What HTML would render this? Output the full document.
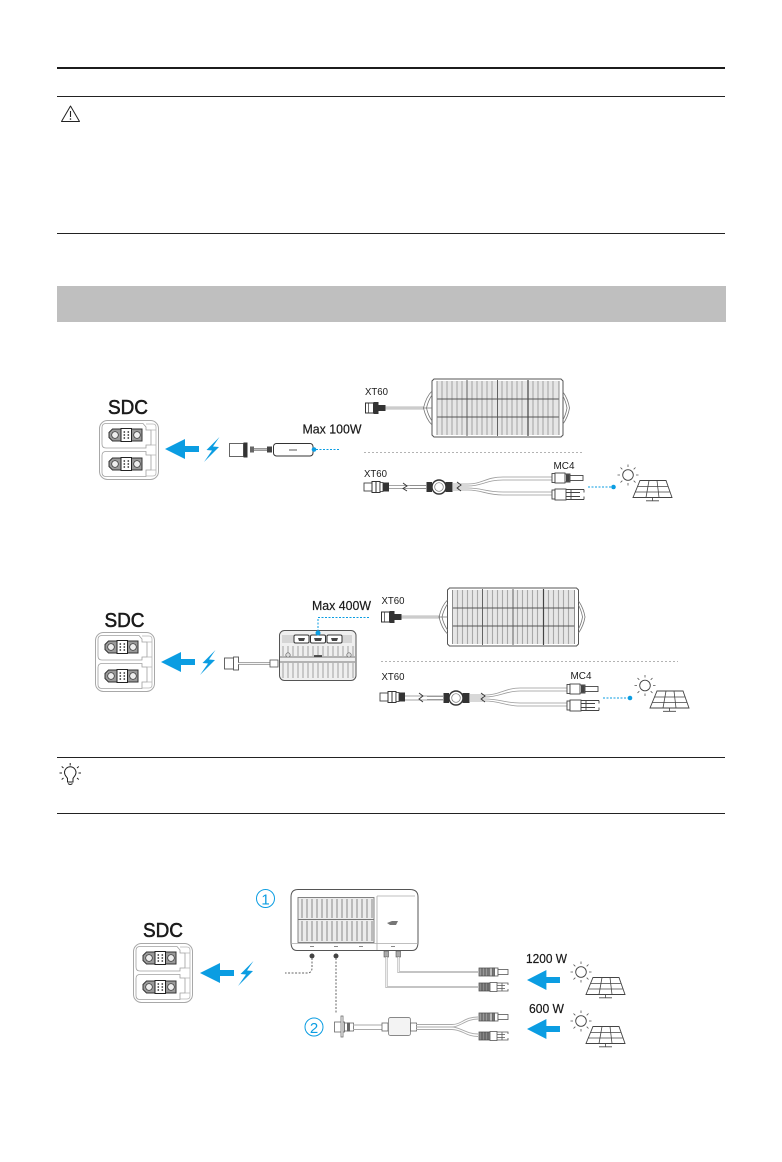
<!DOCTYPE html>
<html lang="en">
<head>
<meta charset="utf-8">
<title>SDC power connections</title>
<style>
html,body{margin:0;padding:0;background:#fff;}
svg{display:block;}
text{font-family:"Liberation Sans",sans-serif;fill:#1a1a1a;}
</style>
</head>
<body>
<svg width="782" height="1162" viewBox="0 0 782 1162" xmlns="http://www.w3.org/2000/svg">
<defs>
  <g id="socket">
    <path d="M10.500 3 L40 3 L40 15 L10.500 15 L7 11.500 L7 6.500 Z" fill="#9a9a9a" stroke="#333" stroke-width="1"/>
    <circle cx="13" cy="9" r="3.300" fill="#eee" stroke="#333" stroke-width=".7"/>
    <circle cx="35" cy="9" r="3.300" fill="#eee" stroke="#333" stroke-width=".7"/>
    <rect x="19" y="2.500" width="10.500" height="13" fill="#fff" stroke="#222" stroke-width="1"/>
    <g fill="#333"><circle cx="22.300" cy="6" r=".9"/><circle cx="26.300" cy="6" r=".9"/><circle cx="22.300" cy="9" r=".9"/><circle cx="26.300" cy="9" r=".9"/><circle cx="22.300" cy="12" r=".9"/><circle cx="26.300" cy="12" r=".9"/></g>
  </g>
  <g id="sdc" fill="none">
    <rect x=".5" y=".5" width="59" height="59" rx="8" fill="#fff" stroke="#a8a8a8" stroke-width="1"/>
    <path d="M7 3.500 H44 L47 7 V10 H52 V25 H47 V28 H7 Q3 28 3 24 V7.500 Q3 3.500 7 3.500 Z" stroke="#a0a0a0" stroke-width=".8"/>
    <path d="M7 31.500 H47 V35 H52 V50 H47 V56.500 H7 Q3 56.500 3 52.500 V35.500 Q3 31.500 7 31.500 Z" stroke="#a0a0a0" stroke-width=".8"/>
    <path d="M47 4 H54 Q57 4 57 7 V53 Q57 56 54 56 H47 M52 10 H57 M52 25 H57 M52 35 H57 M52 50 H57" stroke="#b5b5b5" stroke-width=".8"/>
    <use href="#socket" transform="translate(3 6)"/>
    <use href="#socket" transform="translate(3 35)"/>
  </g>
  <g id="arrow">
    <path d="M0 0 L20 -10 L20 -3 L34 -3 L34 3 L20 3 L20 10 Z" fill="#0b9de2"/>
  </g>
  <path id="bolt" d="M15.500 0 L2.500 13 L8 13.500 L0 25 L15 10 L9 9.500 Z" fill="#0b9de2"/>
  <g id="sun">
    <circle cx="0" cy="0" r="5.300" fill="#fff" stroke="#444" stroke-width=".9"/>
    <path d="M0 -8 V-10.500 M0 8 V10.500 M-8 0 H-10.500 M8 0 H10.500 M-5.700 -5.700 L-7.500 -7.500 M5.700 -5.700 L7.500 -7.500 M-5.700 5.700 L-7.500 7.500 M5.700 5.700 L7.500 7.500" stroke="#555" stroke-width=".8" fill="none"/>
  </g>
  <g id="solar">
    <use href="#sun"/>
    <path d="M12 5.500 H38 L44 22.500 H5 Z" fill="#fff" stroke="#444" stroke-width=".9"/>
    <path d="M9.500 11.500 H39.800 M7.300 17 H41.800 M21 5.500 L18 22.500 M29 5.500 L31 22.500 M24.500 22.500 V25.500 M18 25.800 H31" fill="none" stroke="#444" stroke-width=".8"/>
  </g>
  <g id="panelgrid">
    <path d="M2 0 H129 L131 2 V56 L129 58 H2 L0 56 V2 Z" fill="#fff" stroke="#555" stroke-width="1"/>
    <path d="M0 12 Q-6 18 -8.500 29 Q-6 40 0 46 M0 16 Q-4 22 -5.500 29 Q-4 36 0 42 M-8.500 29 H0" fill="none" stroke="#777" stroke-width=".8"/>
    <path d="M131 13 Q136 20 137.500 29 Q136 38 131 45 M131 17 Q134 23 135 29 Q134 35 131 41" fill="none" stroke="#777" stroke-width=".8"/>
    <rect x="5" y="2" width="122" height="54" fill="#e6e6e6"/>
    <g stroke="#a8a8a8" stroke-width="1.100">
      <path d="M10 2 V56 M15 2 V56 M20 2 V56 M25 2 V56 M30 2 V56 M40 2 V56 M45 2 V56 M50 2 V56 M55 2 V56 M60 2 V56 M70 2 V56 M75 2 V56 M80 2 V56 M85 2 V56 M90 2 V56 M101 2 V56 M106 2 V56 M111 2 V56 M116 2 V56 M121 2 V56"/>
    </g>
    <path d="M5 20 H127 M5 38 H127" stroke="#555" stroke-width=".9"/>
    <path d="M35 1 V57 M65.500 1 V57" stroke="#555" stroke-width=".9"/>
    <path d="M96 1 V57" stroke="#444" stroke-width="1.200"/>
    <path d="M5 2 V56 M127 2 V56" stroke="#777" stroke-width=".8"/>
  </g>
  <g id="xt60a" fill="none">
    <rect x="0" y="-5" width="8" height="10" fill="#fff" stroke="#333" stroke-width="1"/>
    <path d="M3 -5 V5" stroke="#333" stroke-width=".7"/>
    <path d="M8 -6 H13 V-3 H20 V3 H13 V6 H8 Z" fill="#333"/>
  </g>
  <g id="xt60b" fill="none">
    <rect x="0" y="-4" width="8" height="8" fill="#fff" stroke="#444" stroke-width=".9"/>
    <rect x="8" y="-5.500" width="8" height="11" fill="#fff" stroke="#333" stroke-width="1"/>
    <path d="M12 -5.500 V5.500" stroke="#333" stroke-width="1"/>
    <rect x="16" y="-4.500" width="3" height="9" fill="#fff" stroke="#333" stroke-width=".8"/>
    <rect x="19" y="-4.500" width="6" height="9" fill="#333"/>
  </g>
  <g id="mc4m" fill="none" stroke="#444" stroke-width=".9">
    <rect x="0" y="-4.500" width="3" height="9" fill="#fff"/>
    <rect x="3" y="-5" width="10" height="10" fill="#fff"/>
    <path d="M13 -4 H18 V4 H13" fill="#fff"/>
    <rect x="14" y="-3" width="3" height="6" fill="#444"/>
    <rect x="18" y="-2.500" width="13" height="5" fill="#fff"/>
  </g>
  <g id="mc4f" fill="none" stroke="#444" stroke-width=".9">
    <rect x="0" y="-4.500" width="3" height="9" fill="#fff"/>
    <rect x="3" y="-5.500" width="11" height="11" fill="#fff"/>
    <path d="M14 -5 H32 M14 5 H32 M32 -5 V-2 M32 2 V5 M14 -2 H28 M14 2 H28 M19 -5 V5" fill="none"/>
  </g>
  <g id="mc4dm" fill="none" stroke="#555" stroke-width=".8">
    <rect x="0" y="-4" width="11" height="8" fill="#999"/>
    <path d="M3 -4 V4 M6 -4 V4 M9 -4 V4" stroke="#444"/>
    <rect x="11" y="-4" width="8" height="8" fill="#fff"/>
    <rect x="13" y="-4" width="2.500" height="8" fill="#777"/>
    <rect x="19" y="-2.500" width="10" height="5" fill="#fff"/>
  </g>
  <g id="mc4df" fill="none" stroke="#555" stroke-width=".8">
    <rect x="0" y="-4" width="11" height="8" fill="#888"/>
    <path d="M3 -4 V4 M6 -4 V4 M9 -4 V4" stroke="#444"/>
    <rect x="11" y="-4.500" width="7" height="9" fill="#fff"/>
    <path d="M18 -4 H29 V-2 M18 4 H29 V2 M18 -1.500 H26 M18 1.500 H26 M23 -4 V4"/>
  </g>
  <g id="ypair">
    <circle cx="0" cy="0" r="7" fill="#fff" stroke="#333" stroke-width="1.400"/>
    <circle cx="0" cy="0" r="4.300" fill="#fff" stroke="#777" stroke-width=".7"/>
    <rect x="-12.500" y="-5" width="5.500" height="10" fill="#333"/>
    <rect x="6.500" y="-5" width="7" height="10" fill="#333"/>
    <path d="M-29 -1.500 H-13 M-29 1.500 H-13" stroke="#888" stroke-width=".8"/>
  </g>
</defs>

<rect width="782" height="1162" fill="#fff"/>

<!-- rules -->
<rect x="57" y="67" width="668" height="2" fill="#1c1c1c"/>
<rect x="57" y="96" width="668" height="1" fill="#222"/>
<rect x="57" y="233" width="668" height="1" fill="#222"/>
<rect x="57" y="286" width="669" height="36" fill="#bfbfbf"/>
<rect x="57" y="757" width="668" height="1" fill="#222"/>
<rect x="57" y="813" width="668" height="1" fill="#222"/>

<!-- caution icon -->
<path d="M70.500 106 L79.500 121.500 H61.500 Z" fill="none" stroke="#222" stroke-width="1" stroke-linejoin="round"/>
<path d="M70.500 111 V117" stroke="#222" stroke-width="1.100"/>
<circle cx="70.500" cy="119" r=".8" fill="#222"/>

<!-- tip icon -->
<g fill="none" stroke="#222" stroke-width="1">
  <path d="M67.500 782 H73 L73 778.500 C74 776.500 76 775.500 76 772.500 A5.700 5.700 0 0 0 64.500 772.500 C64.500 775.500 66.500 776.500 67.500 778.500 Z"/>
  <path d="M68 783.500 Q70.200 785.500 72.500 783.500"/>
  <path d="M70.200 765.500 V763 M63.500 768 L61.700 766.500 M77 768 L78.800 766.500 M62 773 H59.500 M78.500 773 H81 M63.500 778 L61.700 779.500 M77 778 L78.800 779.500"/>
</g>

<!-- ============ diagram 1 ============ -->
<text x="108" y="414" font-size="20.500" stroke="#1a1a1a" stroke-width=".55" textLength="40" lengthAdjust="spacingAndGlyphs">SDC</text>
<use href="#sdc" transform="translate(99 420)"/>
<use href="#arrow" transform="translate(165 449)"/>
<use href="#bolt" transform="translate(204 437)"/>

<rect x="229.500" y="443.500" width="14" height="13" fill="#fff" stroke="#555" stroke-width=".9"/>
<rect x="243.500" y="442.500" width="4" height="15" fill="#333"/>
<rect x="250" y="446.500" width="4" height="6" fill="#666"/>
<path d="M254 449.500 H267" stroke="#555" stroke-width="2.200"/>
<path d="M254 449.500 H267" stroke="#eee" stroke-width=".7"/>
<rect x="267" y="446.500" width="5" height="6" fill="#444"/>
<rect x="273.500" y="443.500" width="39.500" height="12.500" rx="3" fill="#fff" stroke="#333" stroke-width="1"/>
<path d="M289 450 H297" stroke="#888" stroke-width="1.400"/>
<circle cx="314" cy="449.500" r="2.300" fill="#0b9de2"/>
<path d="M316 449.500 H340" stroke="#0b9de2" stroke-width="1" stroke-dasharray="2 1.500"/>
<text x="302.500" y="433.500" font-size="13" stroke="#1a1a1a" stroke-width=".2" textLength="59" lengthAdjust="spacingAndGlyphs">Max 100W</text>

<text x="365" y="395" font-size="10.500" textLength="23" lengthAdjust="spacingAndGlyphs" fill="#333">XT60</text>
<path d="M385 408 H424" stroke="#777" stroke-width="2.600"/>
<path d="M385 408 H424" stroke="#fff" stroke-width="1.200"/>
<use href="#xt60a" transform="translate(365.500 408)"/>
<use href="#panelgrid" transform="translate(432 379)"/>

<path d="M364 452.500 H584" stroke="#9a9a9a" stroke-width=".8" stroke-dasharray="2 2"/>

<text x="364" y="477" font-size="10.500" textLength="23" lengthAdjust="spacingAndGlyphs" fill="#333">XT60</text>
<use href="#xt60b" transform="translate(364 487)"/>
<use href="#ypair" transform="translate(439 487)"/>
<path d="M389 485.500 H427 M389 488.500 H427" stroke="#888" stroke-width=".8"/>
<path d="M403 483 L407 486 L403 488.500 L407 491" fill="none" stroke="#333" stroke-width=".9"/>
<path d="M453 484 H468 C482 484 486 477 503 477 H552 M453 490 H468 C482 490 486 495 503 495 H552 M453 486 H468 C482 486 486 480 503 480 H552 M453 488 H468 C482 488 486 492 503 492 H552" fill="none" stroke="#999" stroke-width=".8"/>
<path d="M457 482 L461 485 L457 488 L461 491" fill="none" stroke="#333" stroke-width=".9"/>
<use href="#mc4m" transform="translate(552 478)"/>
<use href="#mc4f" transform="translate(552 494.500)"/>
<text x="553.500" y="469" font-size="10.500" textLength="21" lengthAdjust="spacingAndGlyphs" fill="#333">MC4</text>
<path d="M588 487 H611" stroke="#0b9de2" stroke-width="1" stroke-dasharray="2 1.500"/>
<circle cx="613.500" cy="487" r="2.300" fill="#0b9de2"/>
<use href="#solar" transform="translate(628 475)"/>

<!-- ============ diagram 2 ============ -->
<text x="104.500" y="627" font-size="20.500" stroke="#1a1a1a" stroke-width=".55" textLength="40" lengthAdjust="spacingAndGlyphs">SDC</text>
<use href="#sdc" transform="translate(95 632)"/>
<use href="#arrow" transform="translate(161 662)"/>
<use href="#bolt" transform="translate(200 650)"/>

<rect x="224.500" y="658" width="9" height="11" fill="#fff" stroke="#555" stroke-width=".9"/>
<rect x="233.500" y="657" width="5" height="13" fill="#fff" stroke="#555" stroke-width=".9"/>
<path d="M238 663.500 H270" stroke="#777" stroke-width="2.600"/>
<path d="M238 663.500 H270" stroke="#f5f5f5" stroke-width="1.300"/>
<rect x="270" y="660" width="8" height="7" fill="#fff" stroke="#555" stroke-width=".8"/>
<rect x="279.500" y="630.500" width="76.500" height="50" rx="5" fill="#efefef" stroke="#555" stroke-width="1"/>
<g fill="none" stroke="#999" stroke-width=".9">
  <path d="M283 646 V656 M288 646 V656 M293 646 V656 M298 646 V656 M303 646 V656 M308 646 V656 M313 646 V656 M318 646 V656 M323 646 V656 M328 646 V656 M333 646 V656 M338 646 V656 M343 646 V656 M348 646 V656 M353 646 V656"/>
  <path d="M283 663 V678 M288 663 V678 M293 663 V678 M298 663 V678 M303 663 V678 M308 663 V678 M313 663 V678 M318 663 V678 M323 663 V678 M328 663 V678 M333 663 V678 M338 663 V678 M343 663 V678 M348 663 V678 M353 663 V678"/>
  <path d="M280 657 H355 M280 662 H355" stroke="#777"/>
</g>
<rect x="282" y="635" width="70" height="8" fill="#d5d5d5"/>
<g fill="#fff" stroke="#333" stroke-width="1">
  <rect x="294" y="635" width="15" height="8" rx="1.500"/>
  <rect x="310.500" y="635" width="15" height="8" rx="1.500"/>
  <rect x="327" y="635" width="15" height="8" rx="1.500"/>
</g>
<path d="M298 638 H305 L304 641 H299 Z M314 638 H322 L321 641 H315 Z M331 638 H338 L337 641 H332 Z" fill="#444"/>
<circle cx="288" cy="655" r="2.200" fill="#ddd" stroke="#666" stroke-width=".7"/>
<circle cx="349" cy="655" r="2.200" fill="#ddd" stroke="#666" stroke-width=".7"/>
<path d="M314 656 H322" stroke="#444" stroke-width="1.800"/>
<path d="M369 617.500 H318 V632" fill="none" stroke="#0b9de2" stroke-width="1" stroke-dasharray="2 1.500"/>
<circle cx="318" cy="633" r="2.500" fill="#0b9de2"/>
<text x="312" y="610" font-size="13" stroke="#1a1a1a" stroke-width=".2" textLength="59" lengthAdjust="spacingAndGlyphs">Max 400W</text>

<text x="381.500" y="604" font-size="10.500" textLength="23" lengthAdjust="spacingAndGlyphs" fill="#333">XT60</text>
<path d="M400 617 H440" stroke="#777" stroke-width="2.600"/>
<path d="M400 617 H440" stroke="#fff" stroke-width="1.200"/>
<use href="#xt60a" transform="translate(381.500 617)"/>
<use href="#panelgrid" transform="translate(447.500 588)"/>

<path d="M381 661.500 H678" stroke="#9a9a9a" stroke-width=".8" stroke-dasharray="2 2"/>

<text x="381.500" y="680" font-size="10.500" textLength="23" lengthAdjust="spacingAndGlyphs" fill="#333">XT60</text>
<use href="#xt60b" transform="translate(380 697)"/>
<use href="#ypair" transform="translate(456 698)"/>
<path d="M405 696 H444 M405 700 H444" stroke="#888" stroke-width=".8"/>
<path d="M419 693 L423 696 L419 699 L423 702" fill="none" stroke="#333" stroke-width=".9"/>
<path d="M470 695 H485 C500 695 505 688 520 688 H567 M470 701 H485 C500 701 505 706 520 706 H567 M470 697 H485 C500 697 505 691 520 691 H567 M470 699 H485 C500 699 505 703 520 703 H567" fill="none" stroke="#999" stroke-width=".8"/>
<path d="M481 693 L485 696 L481 699 L485 702" fill="none" stroke="#333" stroke-width=".9"/>
<use href="#mc4m" transform="translate(567 689)"/>
<use href="#mc4f" transform="translate(567 705.500)"/>
<text x="570.500" y="679" font-size="10.500" textLength="21" lengthAdjust="spacingAndGlyphs" fill="#333">MC4</text>
<path d="M603 698 H628" stroke="#0b9de2" stroke-width="1" stroke-dasharray="2 1.500"/>
<circle cx="630" cy="698" r="2.300" fill="#0b9de2"/>
<use href="#solar" transform="translate(645 685.500)"/>

<!-- ============ diagram 3 ============ -->
<text x="143" y="937" font-size="20.500" stroke="#1a1a1a" stroke-width=".55" textLength="40" lengthAdjust="spacingAndGlyphs">SDC</text>
<use href="#sdc" transform="translate(133 943)"/>
<use href="#arrow" transform="translate(200 973)"/>
<use href="#bolt" transform="translate(238 961)"/>

<circle cx="265.500" cy="898.500" r="9" fill="none" stroke="#0b9de2" stroke-width="1"/>
<text x="265.500" y="904.500" font-size="15" text-anchor="middle" style="fill:#0b9de2">1</text>

<path d="M298 889.500 H410 Q418 889.500 418 897 V942 Q418 950.500 412 950.500 H297 Q291 950.500 291 942 V897 Q291 889.500 298 889.500 Z" fill="#fff" stroke="#555" stroke-width="1"/>
<path d="M291 943.500 H418 M377 896 V950 M377 896 H415" fill="none" stroke="#aaa" stroke-width=".8"/>
<rect x="298" y="897.500" width="76" height="45" fill="#ececec" stroke="#777" stroke-width=".9"/>
<path d="M302 899 V918 M307 899 V918 M312 899 V918 M317 899 V918 M322 899 V918 M327 899 V918 M332 899 V918 M337 899 V918 M342 899 V918 M347 899 V918 M352 899 V918 M357 899 V918 M362 899 V918 M367 899 V918 M372 899 V918 M302 921 V941 M307 921 V941 M312 921 V941 M317 921 V941 M322 921 V941 M327 921 V941 M332 921 V941 M337 921 V941 M342 921 V941 M347 921 V941 M352 921 V941 M357 921 V941 M362 921 V941 M367 921 V941 M372 921 V941" stroke="#8a8a8a" stroke-width="1"/>
<path d="M298 919.500 H374" stroke="#777" stroke-width="1"/>
<path d="M387 923 L392 921 H398 L396 925 H390 Z" fill="#777"/>
<path d="M310 946.500 H314 M334 946.500 H338 M359 946.500 H363 M391 946.500 H395" stroke="#888" stroke-width="1"/>

<circle cx="312" cy="956" r="2.500" fill="#444"/>
<circle cx="336" cy="956" r="2.500" fill="#444"/>
<path d="M312 958 V968 Q312 973 307 973 H285" fill="none" stroke="#666" stroke-width="1" stroke-dasharray="2 1.500"/>
<path d="M336 958 V1014" fill="none" stroke="#666" stroke-width="1" stroke-dasharray="2 1.500"/>

<rect x="384" y="951" width="4.500" height="6" fill="#aaa" stroke="#555" stroke-width=".6"/>
<rect x="396" y="951" width="4.500" height="6" fill="#aaa" stroke="#555" stroke-width=".6"/>
<path d="M386.500 957 V987 H478" fill="none" stroke="#a0a0a0" stroke-width="2"/>
<path d="M386.500 957 V987 H478" fill="none" stroke="#fff" stroke-width=".8"/>
<path d="M398.500 957 V972 H478" fill="none" stroke="#a0a0a0" stroke-width="2"/>
<path d="M398.500 957 V972 H478" fill="none" stroke="#fff" stroke-width=".8"/>
<use href="#mc4dm" transform="translate(479 972)"/>
<use href="#mc4df" transform="translate(479 987)"/>

<circle cx="314" cy="1027" r="9" fill="none" stroke="#0b9de2" stroke-width="1"/>
<text x="314" y="1033" font-size="15" text-anchor="middle" style="fill:#0b9de2">2</text>
<rect x="334.500" y="1022" width="10" height="10" fill="#fff" stroke="#666" stroke-width=".8"/>
<path d="M341 1016 H343 V1037 H341 Z" fill="#fff" stroke="#666" stroke-width=".8"/>
<rect x="344.500" y="1023" width="9" height="8" fill="#fff" stroke="#666" stroke-width=".8"/>
<rect x="347" y="1022.500" width="3" height="9" fill="#666"/>
<path d="M353 1025 H383 M353 1029.500 H383" stroke="#aaa" stroke-width="1"/>
<rect x="382" y="1023" width="6" height="8" fill="#fff" stroke="#666" stroke-width=".8"/>
<rect x="388.500" y="1017.500" width="22" height="18" rx="2" fill="#f3f3f3" stroke="#888" stroke-width=".9"/>
<rect x="410.500" y="1023" width="6" height="8" fill="#fff" stroke="#666" stroke-width=".8"/>
<path d="M416 1024.500 H452 C462 1024.500 464 1017 478 1017 M416 1027 H452 C460 1027 466 1019 478 1019 M416 1027 H452 C460 1027 466 1034 478 1034 M416 1029.500 H452 C462 1029.500 466 1036.500 478 1036.500" fill="none" stroke="#aaa" stroke-width=".9"/>
<use href="#mc4dm" transform="translate(479 1017)"/>
<use href="#mc4df" transform="translate(479 1036)"/>

<text x="526" y="963" font-size="12.500" stroke="#1a1a1a" stroke-width=".2" textLength="41" lengthAdjust="spacingAndGlyphs">1200 W</text>
<text x="529" y="1013" font-size="12.500" stroke="#1a1a1a" stroke-width=".2" textLength="35" lengthAdjust="spacingAndGlyphs">600 W</text>
<use href="#arrow" transform="translate(527 980) scale(.97 1)"/>
<use href="#arrow" transform="translate(527 1029) scale(.97 1)"/>
<use href="#solar" transform="translate(581 972)"/>
<use href="#solar" transform="translate(581 1021)"/>
</svg>
</body>
</html>
